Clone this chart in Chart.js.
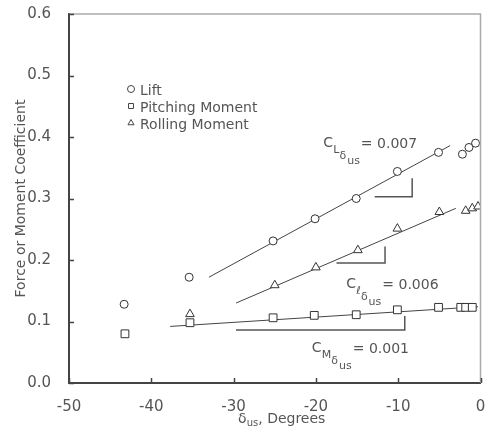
<!DOCTYPE html>
<html>
<head>
<meta charset="utf-8">
<script src="https://cdn.jsdelivr.net/npm/chart.js@4.4.0/dist/chart.umd.min.js"></script>
<style>
  html, body { margin: 0; padding: 0; background: #fff; }
  #wrap { width: 487px; height: 436px; }
</style>
</head>
<body>
<div id="wrap"><canvas id="chart" width="487" height="436"></canvas></div>
<script>
// Measured coefficients vs. surface deflection (degrees)
const liftX  = [-43.3, -35.4, -25.2, -20.1, -15.1, -10.1, -5.1, -2.2, -1.4, -0.6];
const liftY  = [0.128, 0.172, 0.231, 0.267, 0.300, 0.344, 0.375, 0.372, 0.383, 0.390];
const pitchX = [-43.2, -35.3, -25.2, -20.2, -15.1, -10.1, -5.1, -2.4, -1.8, -1.0];
const pitchY = [0.080, 0.098, 0.106, 0.110, 0.111, 0.119, 0.123, 0.123, 0.123, 0.123];
const rollX  = [-35.3, -25.0, -20.0, -14.9, -10.1, -5.0, -1.8, -1.0, -0.3];
const rollY  = [0.112, 0.159, 0.188, 0.216, 0.251, 0.278, 0.280, 0.284, 0.287];

// Slope fit lines (end points)
const liftFitX  = [-33.0, -3.7];
const liftFitY  = [0.172, 0.386];
const rollFitX  = [-29.7, -3.0];
const rollFitY  = [0.130, 0.284];
const pitchFitX = [-37.7, -0.3];
const pitchFitY = [0.092, 0.124];

// Slope brackets
const liftBracketX  = [-12.85, -8.3, -8.3];
const liftBracketY  = [0.303, 0.303, 0.333];
const rollBracketX  = [-17.5, -11.6, -11.6];
const rollBracketY  = [0.195, 0.195, 0.222];
const pitchBracketX = [-29.7, -9.2, -9.2];
const pitchBracketY = [0.086, 0.086, 0.109];

const seriesNames = ['Lift', 'Pitching Moment', 'Rolling Moment'];
const markerStyles = ['circle', 'rect', 'triangle'];
const slopeValues = ['0.007', '0.006', '0.001'];
const slopeSubs = ['L', 'ℓ', 'M'];
const xTicks = [-50, -40, -30, -20, -10, 0];

const FONT = '"DejaVu Sans", Verdana, sans-serif';
const INK = '#555';

function pts(xs, ys) {
    return xs.map((x, i) => ({ x: x, y: ys[i] }));
}

function markerSet(label, xs, ys, style, radius) {
    return {
        label: label,
        data: pts(xs, ys),
        pointStyle: style,
        pointRadius: radius,
        pointBorderWidth: 1,
        pointBorderColor: '#333',
        pointBackgroundColor: '#fff',
        showLine: false,
        order: 1
    };
}

function lineSet(xs, ys, width, color) {
    return {
        data: pts(xs, ys),
        showLine: true,
        pointRadius: 0,
        borderWidth: width,
        borderColor: color,
        fill: false,
        order: 2
    };
}

// label anchors in data units (left edge of "C", vertical middle)
const slopeLabelPos = [
    { x: -19.1, y: 0.390 },
    { x: -16.3, y: 0.160 },
    { x: -20.5, y: 0.057 }
];

function drawSlopeLabel(ctx, px, py, sub, value) {
    ctx.fillStyle = INK;
    ctx.textAlign = 'left';
    ctx.textBaseline = 'middle';
    ctx.font = '14px ' + FONT;
    ctx.fillText('C', px, py);
    ctx.font = '11px ' + FONT;
    let x = px + 10;
    ctx.fillText(sub, x, py + 7);
    x += ctx.measureText(sub).width;
    ctx.fillText('δ', x, py + 13);
    x += ctx.measureText('δ').width + 1;
    ctx.fillText('us', x, py + 18);
    x += ctx.measureText('us').width + 1;
    ctx.font = '14px ' + FONT;
    ctx.fillText('= ' + value, x, py + 1);
}

const decorPlugin = {
    id: 'decor',
    afterDraw(chart) {
        const ctx = chart.ctx;
        const area = chart.chartArea;
        const xs = chart.scales.x;
        const ys = chart.scales.y;
        ctx.save();

        // frame: light top and right edges
        ctx.strokeStyle = '#aaa';
        ctx.lineWidth = 1.5;
        ctx.beginPath();
        ctx.moveTo(area.left, area.top);
        ctx.lineTo(area.right, area.top);
        ctx.lineTo(area.right, area.bottom);
        ctx.stroke();

        // inward tick marks
        ctx.strokeStyle = '#444';
        ctx.lineWidth = 1.5;
        ctx.beginPath();
        xs.ticks.forEach(t => {
            const px = Math.round(xs.getPixelForValue(t.value)) + 0.5;
            ctx.moveTo(px, area.bottom);
            ctx.lineTo(px, area.bottom - 5);
        });
        ys.ticks.forEach(t => {
            const py = Math.round(ys.getPixelForValue(t.value)) + 0.5;
            ctx.moveTo(area.left, py);
            ctx.lineTo(area.left + 5, py);
        });
        ctx.stroke();

        // legend inside the plot
        const lx = area.left + 62;
        const ly = area.top + 75;
        seriesNames.forEach((name, i) => {
            const y = ly + i * 17;
            ctx.fillStyle = '#fff';
            ctx.strokeStyle = '#444';
            ctx.lineWidth = 1;
            Chart.helpers.drawPoint(ctx, { pointStyle: markerStyles[i], radius: 3.5, borderWidth: 1 }, lx, y);
            ctx.fillStyle = INK;
            ctx.font = '14px ' + FONT;
            ctx.textAlign = 'left';
            ctx.textBaseline = 'middle';
            ctx.fillText(name, lx + 9, y + 2);
        });

        // slope labels
        slopeLabelPos.forEach((p, i) => {
            drawSlopeLabel(ctx, xs.getPixelForValue(p.x), ys.getPixelForValue(p.y), slopeSubs[i], slopeValues[i]);
        });

        // x axis title with subscript
        const cx = (area.left + area.right) / 2 + 7;
        const ty = area.bottom + 36;
        ctx.fillStyle = INK;
        ctx.textBaseline = 'middle';
        ctx.font = '14px ' + FONT;
        const wD = ctx.measureText('δ').width;
        const wRest = ctx.measureText(', Degrees').width;
        ctx.font = '10px ' + FONT;
        const wUs = ctx.measureText('us').width;
        let x = cx - (wD + wUs + wRest) / 2;
        ctx.font = '14px ' + FONT;
        ctx.fillText('δ', x, ty);
        x += wD;
        ctx.font = '10px ' + FONT;
        ctx.fillText('us', x, ty + 4);
        x += wUs;
        ctx.font = '14px ' + FONT;
        ctx.fillText(', Degrees', x, ty);

        ctx.restore();
    }
};

new Chart(document.getElementById('chart'), {
    type: 'scatter',
    data: {
        datasets: [
            markerSet(seriesNames[0], liftX, liftY, markerStyles[0], 4),
            markerSet(seriesNames[1], pitchX, pitchY, markerStyles[1], 5.5),
            markerSet(seriesNames[2], rollX, rollY, markerStyles[2], 5),
            lineSet(liftFitX, liftFitY, 1, '#444'),
            lineSet(rollFitX, rollFitY, 1, '#444'),
            lineSet(pitchFitX, pitchFitY, 1, '#444'),
            lineSet(liftBracketX, liftBracketY, 1.5, '#555'),
            lineSet(rollBracketX, rollBracketY, 1.5, '#555'),
            lineSet(pitchBracketX, pitchBracketY, 1.5, '#555')
        ]
    },
    options: {
        responsive: false,
        animation: false,
        layout: { padding: { top: 14, right: 2, left: 0, bottom: 0 } },
        plugins: {
            legend: { display: false },
            tooltip: { enabled: false }
        },
        scales: {
            x: {
                type: 'linear',
                min: -50,
                max: 0,
                afterBuildTicks: s => { s.ticks = xTicks.map(v => ({ value: v })); },
                ticks: {
                    color: INK,
                    font: { family: FONT, size: 15 },
                    padding: 7,
                    maxRotation: 0
                },
                grid: { display: false },
                border: { display: true, color: '#444', width: 2 },
                afterFit: s => {
                    s.height = 53;
                    s.paddingLeft = 0;
                    s.paddingRight = 0;
                }
            },
            y: {
                min: 0,
                max: 0.6,
                ticks: {
                    stepSize: 0.1,
                    color: INK,
                    font: { family: FONT, size: 15 },
                    padding: 10,
                    callback: v => v.toFixed(1)
                },
                grid: { display: false },
                border: { display: true, color: '#444', width: 2 },
                title: {
                    display: true,
                    text: 'Force or Moment Coefficient',
                    color: INK,
                    font: { family: FONT, size: 14 },
                    padding: { top: 13, bottom: 0 }
                },
                afterFit: s => {
                    s.width = 69;
                    s.paddingTop = 0;
                    s.paddingBottom = 0;
                }
            }
        }
    },
    plugins: [decorPlugin]
});
</script>
</body>
</html>
